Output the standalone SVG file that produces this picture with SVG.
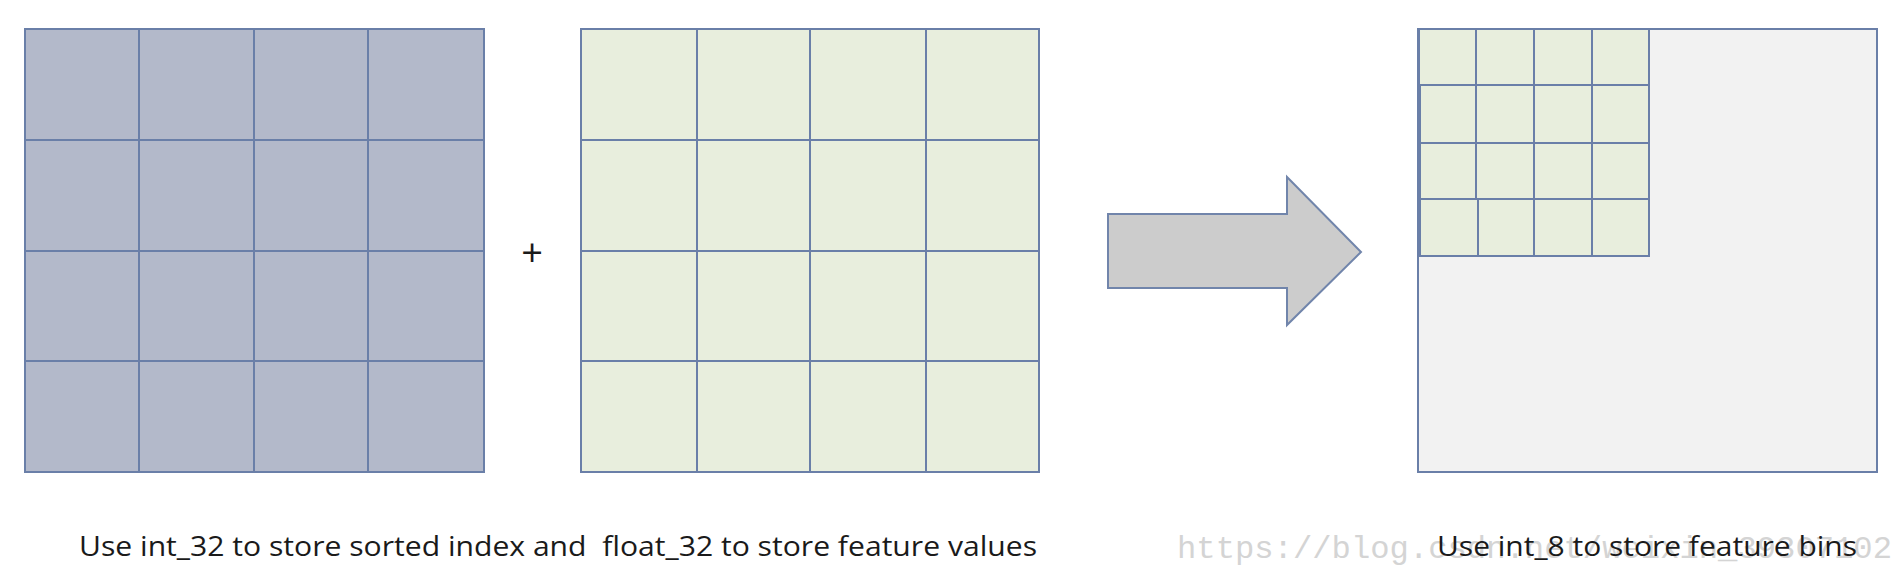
<svg xmlns="http://www.w3.org/2000/svg" width="1892" height="576" viewBox="0 0 1892 576">
<style>
.grid{stroke:#6a7fa8;stroke-width:2;}
.blue{fill:#b3b9ca;}
.green{fill:#e8eedd;}
.gray{fill:#f2f2f2;}
.line{stroke:#6a7fa8;stroke-width:2;fill:none;}
.cap{font-family:"Open Sans","Liberation Sans",sans-serif;font-size:27px;fill:#1a1a1a;white-space:pre;}
.wm{font-family:"Liberation Mono","DejaVu Sans Mono",monospace;font-size:32px;fill:#d4d4d4;}
</style>
<rect width="1892" height="576" fill="#ffffff"/>
<text class="wm" x="1177" y="558" textLength="715" lengthAdjust="spacingAndGlyphs">https://blog.csdn.net/weixin_39307102</text>
<g id="index-grid">
<rect class="grid blue" x="25" y="29" width="459" height="443"/>
<path class="line" d="M139 29V472M254 29V472M368 29V472M25 140H484M25 251H484M25 361H484"/>
</g>
<g id="plus">
<text x="532" y="266" text-anchor="middle" font-family="'Open Sans','Liberation Sans',sans-serif" font-size="38" fill="#1a1a1a">+</text>
</g>
<g id="value-grid">
<rect class="grid green" x="581" y="29" width="458" height="443"/>
<path class="line" d="M697 29V472M810 29V472M926 29V472M581 140H1039M581 251H1039M581 361H1039"/>
</g>
<g id="connectors">
<g id="arrow">
<polygon points="1108,214 1287,214 1287,177 1361,252 1287,325 1287,288 1108,288" fill="#cccccc" stroke="#7185ab" stroke-width="2" stroke-linejoin="miter"/>
</g>
</g>
<g id="bins-box">
<rect class="grid gray" x="1418" y="29" width="459" height="443"/>
<rect class="grid green" x="1419" y="29" width="230" height="227"/>
<path class="line" d="M1420 85V256M1476 29V199M1478 199V256M1534 29V256M1592 29V256M1419 85H1649M1419 143H1649M1419 199H1649"/>
</g>
<g id="captions">
<text class="cap" x="79" y="556" textLength="958" lengthAdjust="spacingAndGlyphs">Use int_32 to store sorted index and  float_32 to store feature values</text>
<text class="cap" x="1437" y="556" textLength="420" lengthAdjust="spacingAndGlyphs">Use int_8 to store feature bins</text>
</g>
</svg>
